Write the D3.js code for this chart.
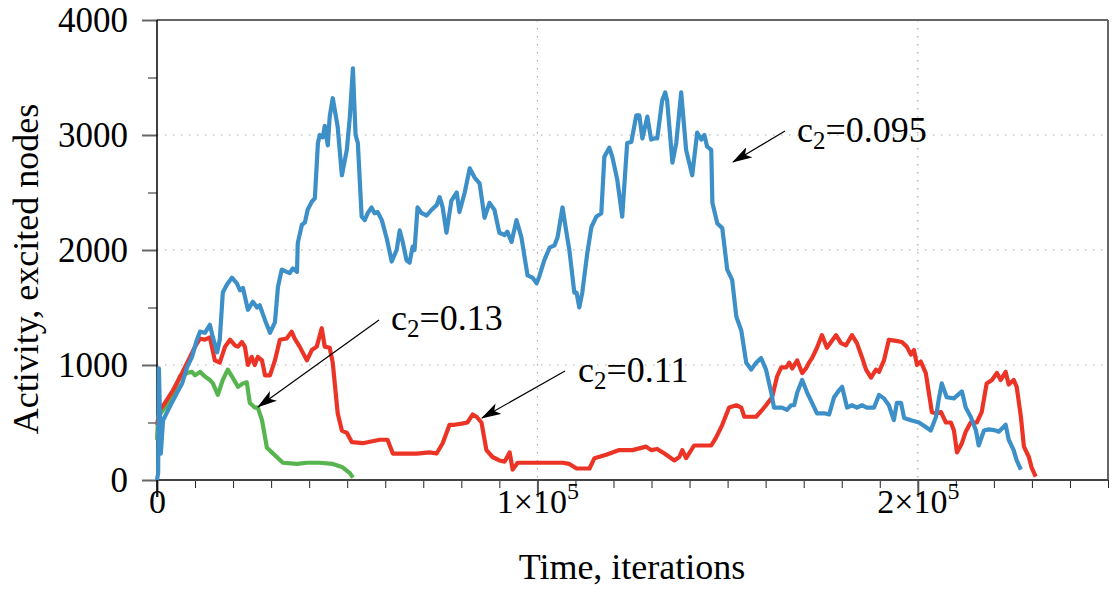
<!DOCTYPE html>
<head>
  <meta charset="utf-8">
  <script src="https://d3js.org/d3.v7.min.js"></script>
  <style>
    body { margin: 0; background: #fff; }
    text { font-family: "Liberation Serif", "DejaVu Serif", serif; fill: #000; }
  </style>
</head>
<body>
  <script>
    // time in thousands of iterations, activity in excited nodes
    var tBlue = [0, 0.3, 0.5, 1.0, 1.6, 3.4, 5.3, 6.6, 7.9, 9.2, 10.5, 11.3, 12.6, 13.9, 14.7, 15.8, 16.5, 17.3, 18.4, 19.7,
      21.0, 21.8, 22.6, 23.9, 25.2, 26.3, 27.0, 28.4, 29.7, 31.0, 31.8, 32.8, 34.1, 34.9, 35.7, 36.8, 37.0, 38.1, 38.9, 39.6,
      40.7, 41.5, 42.3, 42.8, 43.6, 44.1, 44.9, 45.4, 46.2, 47.3, 47.5, 48.6, 49.9, 50.7, 51.5, 52.2, 52.8, 53.8, 54.6, 55.4,
      56.4, 57.2, 58.0, 59.1, 60.4, 61.7, 63.0, 63.8, 64.6, 65.6, 66.4, 67.2, 67.7, 68.5, 69.6, 70.9, 72.2, 73.5, 74.3, 75.1,
      76.1, 77.4, 78.8, 79.5, 80.9, 82.2, 83.5, 84.8, 86.1, 87.4, 88.7, 90.0, 91.4, 92.1, 93.2, 94.5, 95.8, 97.4, 98.7, 99.8,
      100.5, 101.8, 103.2, 104.5, 105.3, 106.6, 107.6, 108.4, 109.7, 110.3, 111.0, 111.8, 113.1, 114.2, 115.5, 116.8, 117.6, 118.9, 119.7, 121.0,
      122.3, 123.6, 124.7, 126.0, 126.8, 127.6, 128.9, 129.9, 130.7, 131.5, 132.8, 133.6, 134.1, 135.5, 136.5, 137.8, 139.1, 140.7, 142.0, 143.1,
      143.9, 144.6, 145.7, 146.0, 147.3, 148.6, 149.9, 151.2, 152.3, 153.6, 154.9, 156.2, 157.5, 158.8, 160.1, 161.4, 162.2, 164.3, 165.6, 166.7,
      167.5, 168.3, 169.6, 170.9, 172.2, 173.5, 175.4, 176.7, 178.0, 179.3, 180.1, 181.4, 182.7, 184.0, 185.3, 186.6, 188.5, 189.8, 191.1, 192.4,
      193.7, 194.5, 195.6, 196.4, 198.2, 200.3, 202.1, 203.4, 204.8, 205.5, 206.3, 207.6, 209.5, 211.6, 212.6, 213.9, 215.3, 216.0, 217.4, 218.7,
      220.5, 221.3, 223.1, 223.9, 225.2, 226.0, 227.1];
    var vBlue = [0, 60, 970, 230, 520, 640, 760, 840, 980, 1070, 1220, 1290, 1280, 1350, 1240, 1110, 1220, 1630, 1700, 1760,
      1710, 1650, 1670, 1480, 1550, 1500, 1520, 1390, 1280, 1370, 1680, 1830, 1810, 1800, 1840, 1810, 2060, 2220, 2240, 2350,
      2420, 2450, 2930, 3000, 2980, 3080, 2910, 3160, 3320, 3110, 3070, 2650, 2870, 3160, 3580, 3000, 2930, 2290, 2260, 2320,
      2370, 2320, 2330, 2260, 2100, 1900, 2000, 2170, 2070, 1910, 1890, 2030, 2000, 2370, 2320, 2300, 2350, 2390, 2460, 2370,
      2150, 2430, 2500, 2330, 2500, 2710, 2630, 2580, 2280, 2410, 2350, 2150, 2130, 2160, 2070, 2260, 2110, 1780, 1760, 1710,
      1770, 1910, 2020, 2040, 2110, 2370, 2160, 2000, 1630, 1630, 1500, 1630, 1970, 2200, 2290, 2320, 2810, 2890, 2810, 2610,
      2290, 2930, 2940, 3170, 3170, 2970, 3160, 2960, 2970, 2970, 3300, 3370, 3300, 2760, 2930, 3370, 2870, 2650, 3020, 2960,
      3000, 2900, 2870, 2410, 2230, 2190, 1830, 1740, 1420, 1300, 1020, 960, 1020, 1060, 960, 770, 630, 630, 610, 650,
      650, 760, 870, 760, 670, 580, 580, 570, 720, 780, 810, 630, 650, 630, 650, 630, 630, 740, 710, 650,
      520, 670, 670, 540, 520, 500, 460, 430, 550, 700, 840, 720, 710, 770, 630, 550, 430, 300, 430, 440,
      430, 420, 480, 350, 260, 170, 90];

    var tRed = [0, 0.8, 2.1, 4.2, 6.6, 8.7, 10.0, 11.3, 12.6, 13.9, 15.2, 16.5, 17.9, 19.2, 20.5, 21.3, 22.3, 23.1, 23.9, 24.9,
      25.7, 26.5, 27.6, 28.4, 29.7, 31.0, 32.3, 34.1, 35.4, 36.2, 37.5, 39.4, 40.7, 42.0, 43.3, 44.1, 45.4, 46.2, 47.5, 48.6,
      49.9, 51.2, 54.1, 58.5, 60.6, 62.0, 64.6, 68.3, 71.7, 73.5, 75.1, 76.9, 78.2, 80.1, 81.6, 83.0, 84.0, 85.3, 86.6, 88.2,
      90.0, 91.4, 92.7, 93.5, 94.8, 97.9, 102.4, 106.6, 108.4, 110.3, 113.7, 115.0, 118.1, 121.5, 125.0, 128.6, 129.9, 131.5, 133.4, 136.0,
      137.3, 138.1, 139.1, 141.2, 143.3, 145.7, 147.0, 148.6, 150.4, 152.3, 153.6, 154.4, 157.5, 159.1, 160.1, 161.7, 163.0, 164.1, 165.4, 166.2,
      167.0, 168.3, 169.6, 170.6, 171.4, 172.2, 173.5, 174.8, 176.1, 177.2, 178.5, 179.8, 181.1, 182.7, 184.0, 185.3, 186.4, 187.7, 189.0, 189.8,
      191.1, 192.4, 194.3, 195.8, 197.1, 198.2, 199.0, 199.8, 200.8, 202.1, 202.9, 203.7, 204.8, 206.1, 207.4, 208.7, 209.5, 210.3, 211.6, 212.6,
      213.9, 215.5, 216.8, 218.1, 219.5, 220.8, 221.8, 223.1, 223.9, 225.2, 226.0, 227.1, 227.9, 229.2, 229.9, 231.0];
    var vRed = [480, 610, 670, 780, 930, 1070, 1160, 1230, 1220, 1240, 1040, 1020, 1160, 1220, 1170, 1160, 1200, 1160, 1000, 1070,
      1000, 1070, 1040, 910, 910, 1040, 1220, 1230, 1290, 1230, 1160, 1040, 1130, 1160, 1320, 1160, 1150, 1020, 580, 430,
      410, 330, 320, 350, 350, 230, 230, 230, 240, 230, 320, 480, 480, 490, 500, 570, 550, 500, 260, 200,
      170, 160, 240, 90, 150, 150, 150, 150, 140, 100, 100, 190, 220, 260, 260, 290, 260, 270, 230, 170,
      200, 260, 190, 300, 300, 300, 370, 480, 630, 650, 630, 550, 550, 610, 650, 720, 900, 980, 980, 1020,
      970, 1040, 930, 970, 1020, 1060, 1150, 1260, 1150, 1200, 1260, 1190, 1170, 1260, 1190, 1070, 960, 890, 960, 940,
      1040, 1220, 1210, 1200, 1160, 1090, 1130, 1000, 1030, 930, 760, 590, 580, 590, 500, 500, 430, 240, 320, 420,
      500, 500, 590, 840, 870, 930, 870, 940, 830, 870, 810, 550, 290, 200, 110, 30];

    var tGreen = [0, 0.3, 2.1, 4.2, 6.0, 7.9, 9.2, 10.0, 11.3, 12.6, 13.9, 14.7, 16.0, 17.3, 18.6, 19.9, 21.3, 22.6, 23.6, 24.4,
      25.7, 26.5, 27.6, 28.9, 30.2, 33.1, 36.8, 39.4, 42.8, 46.2, 48.8, 50.7, 51.5];
    var vGreen = [350, 550, 630, 740, 900, 930, 940, 910, 940, 900, 870, 840, 740, 870, 960, 890, 810, 840, 850, 670,
      630, 630, 520, 280, 240, 150, 140, 150, 150, 140, 110, 60, 20];

    var yTicks = [0, 1000, 2000, 3000, 4000];
    var xTicks = [0, 100000, 200000];
    var xTickLabels = [["0", ""], ["1\u00d710", "5"], ["2\u00d710", "5"]];
    var labels = [
      { text: "0.095", x: 797, y: 142, ax: 785, ay: 131, tx: 733, ty: 162 },
      { text: "0.13", x: 391, y: 330, ax: 379, ay: 320, tx: 258, ty: 407 },
      { text: "0.11", x: 578, y: 382, ax: 565, ay: 371, tx: 482, ty: 418 }
    ];

    var width = 1115, height = 589;
    var margin = { top: 20, right: 7, bottom: 109, left: 157 };
    var w = width - margin.left - margin.right,
      h = height - margin.top - margin.bottom;

    var svg = d3.select("body").append("svg")
      .attr("width", width)
      .attr("height", height);

    var defs = svg.append("defs");
    defs.append("marker")
      .attr("id", "arrow")
      .attr("viewBox", "0 0 20 12")
      .attr("refX", 19).attr("refY", 6)
      .attr("markerWidth", 20).attr("markerHeight", 12)
      .attr("markerUnits", "userSpaceOnUse")
      .attr("orient", "auto")
      .append("path")
      .attr("d", "M0,0 L20,6 L0,12 L5,6 Z")
      .attr("fill", "#000");

    var g = svg.append("g")
      .attr("transform", "translate(" + margin.left + "," + margin.top + ")");

    var x = d3.scaleLinear().domain([0, 250000]).range([0, w]);
    var y = d3.scaleLinear().domain([0, 4000]).range([h, 0]);

    // grid
    g.append("g").selectAll("line")
      .data(yTicks.slice(1, 4)).enter().append("line")
      .attr("x1", 0).attr("x2", w)
      .attr("y1", d => y(d)).attr("y2", d => y(d))
      .attr("stroke", "#aaa").attr("stroke-width", 1.2)
      .attr("stroke-dasharray", "1.5,6.5");
    g.append("g").selectAll("line")
      .data(xTicks.slice(1)).enter().append("line")
      .attr("x1", d => x(d)).attr("x2", d => x(d))
      .attr("y1", 0).attr("y2", h)
      .attr("stroke", "#aaa").attr("stroke-width", 1.2)
      .attr("stroke-dasharray", "1.5,6.5");

    // minor ticks
    var xMinor = g.append("g").attr("transform", "translate(0," + h + ")")
      .call(d3.axisBottom(x).tickValues(d3.range(0, 250001, 10000)).tickSize(8).tickFormat(""));
    xMinor.select(".domain").remove();
    xMinor.selectAll("line").attr("stroke", "#222");

    var yMinor = g.append("g")
      .call(d3.axisLeft(y).tickValues(d3.range(500, 4000, 1000)).tickSize(9).tickFormat(""));
    yMinor.select(".domain").remove();
    yMinor.selectAll("line").attr("stroke", "#222");

    // major ticks
    var xMajor = g.append("g").attr("transform", "translate(0," + h + ")")
      .call(d3.axisBottom(x).tickValues(xTicks).tickSize(17).tickFormat(""));
    xMajor.select(".domain").remove();
    xMajor.selectAll("line").attr("stroke", "#555").attr("stroke-width", 2);
    xMajor.selectAll(".tick").append("text")
      .attr("y", 33)
      .attr("text-anchor", "middle")
      .style("font-size", "34px")
      .each(function (d, i) {
        var t = d3.select(this);
        t.append("tspan").text(xTickLabels[i][0]);
        if (xTickLabels[i][1]) {
          t.append("tspan").attr("dy", -14).style("font-size", "24px").text(xTickLabels[i][1]);
        }
      });

    var yMajor = g.append("g")
      .call(d3.axisLeft(y).tickValues(yTicks).tickSize(15).tickFormat(d => d));
    yMajor.select(".domain").remove();
    yMajor.selectAll("line").attr("stroke", "#666").attr("stroke-width", 2);
    yMajor.selectAll("text")
      .attr("x", -29).attr("dy", "0.34em")
      .style("font-size", "35px");

    // frame
    g.append("line").attr("x1", 0).attr("x2", w).attr("y1", 0).attr("y2", 0)
      .attr("stroke", "#666").attr("stroke-width", 2);
    g.append("line").attr("x1", w).attr("x2", w).attr("y1", 0).attr("y2", h)
      .attr("stroke", "#666").attr("stroke-width", 2);
    g.append("line").attr("x1", 0).attr("x2", w).attr("y1", h).attr("y2", h)
      .attr("stroke", "#444").attr("stroke-width", 2);
    g.append("line").attr("x1", 0).attr("x2", 0).attr("y1", 0).attr("y2", h + 17)
      .attr("stroke", "#000").attr("stroke-width", 1.5);

    // lines
    var series = [
      { t: tGreen, v: vGreen, color: "#57b54f" },
      { t: tRed, v: vRed, color: "#ec3426" },
      { t: tBlue, v: vBlue, color: "#3d8fc8" }
    ];
    series.forEach(function (s) {
      var pts = s.t.map((t, i) => [t * 1000, s.v[i]]);
      g.append("path")
        .datum(pts)
        .attr("fill", "none")
        .attr("stroke", s.color)
        .attr("stroke-width", 4.2)
        .attr("stroke-linejoin", "round")
        .attr("d", d3.line().x(d => x(d[0])).y(d => y(d[1])));
    });

    // annotations
    labels.forEach(function (l) {
      svg.append("line")
        .attr("x1", l.ax).attr("y1", l.ay).attr("x2", l.tx).attr("y2", l.ty)
        .attr("stroke", "#000").attr("stroke-width", 1.2)
        .attr("marker-end", "url(#arrow)");
      var t = svg.append("text").attr("x", l.x).attr("y", l.y).style("font-size", "36px");
      t.append("tspan").text("c");
      t.append("tspan").attr("dy", 7).style("font-size", "25px").text("2");
      t.append("tspan").attr("dy", -7).text("=" + l.text);
    });

    // axis titles
    svg.append("text")
      .attr("x", 632).attr("y", 579)
      .attr("text-anchor", "middle")
      .style("font-size", "36px")
      .text("Time, iterations");
    svg.append("text")
      .attr("transform", "translate(38,269) rotate(-90)")
      .attr("text-anchor", "middle")
      .style("font-size", "36px")
      .text("Activity, excited nodes");
  </script>
</body>
